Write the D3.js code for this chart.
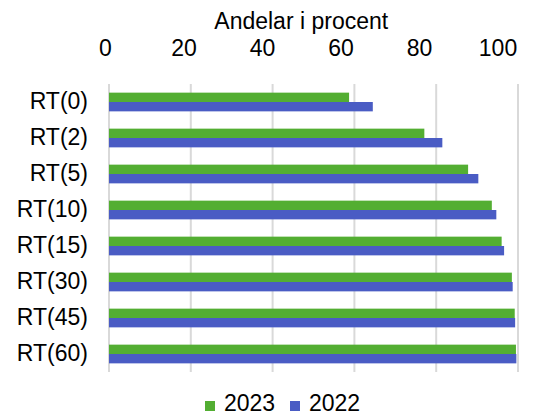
<!DOCTYPE html>
<html>
<head>
<meta charset="utf-8">
<script src="https://cdn.jsdelivr.net/npm/d3@7"></script>
<style>
  body { margin: 0; background: #fff; }
  text { font-family: "Liberation Sans", Arial, sans-serif; fill: #000; }
</style>
</head>
<body>
<div id="chart"></div>
<script>
const width = 540;
const height = 416;

// data
const categories = ['RT(0)', 'RT(2)', 'RT(5)', 'RT(10)', 'RT(15)', 'RT(30)', 'RT(45)', 'RT(60)'];
const series = ['2023', '2022'];
const values2023 = [58.7, 77.1, 87.8, 93.6, 96.0, 98.5, 99.2, 99.5];
const values2022 = [64.5, 81.5, 90.3, 94.7, 96.6, 98.7, 99.3, 99.6];
const xTicks = [0, 20, 40, 60, 80, 100];
const colors = { '2023': '#53ae32', '2022': '#4a5cc4' };

const fontSize = '23px';

const svg = d3.select('#chart')
    .append('svg')
    .attr('width', width)
    .attr('height', height);

const x = d3.scaleLinear().domain([0, 100]).range([109, 518]);
// tick labels sit slightly off the gridlines in the original
const xLabel = d3.scaleLinear().domain([0, 100]).range([105, 497.5]);
const y = d3.scaleBand().domain(categories).range([84, 372]).paddingInner(0.48).paddingOuter(0.24);
const ySub = d3.scaleBand().domain(series).range([0, y.bandwidth()]);

// gridlines
svg.append('g')
    .selectAll('line')
    .data(xTicks)
    .enter()
    .append('line')
    .attr('x1', d => x(d))
    .attr('x2', d => x(d))
    .attr('y1', 84)
    .attr('y2', 372)
    .attr('stroke', '#d9d9d9')
    .attr('stroke-width', 2);

// bars
const rows = categories.map((c, i) => ({ cat: c, vals: { '2023': values2023[i], '2022': values2022[i] } }));
const groups = svg.append('g')
    .selectAll('g')
    .data(rows)
    .enter()
    .append('g')
    .attr('transform', d => `translate(0,${y(d.cat)})`);

groups.selectAll('rect')
    .data(d => series.map(s => ({ s: s, v: d.vals[s] })))
    .enter()
    .append('rect')
    .attr('x', x(0))
    .attr('y', d => ySub(d.s))
    .attr('width', d => x(d.v) - x(0))
    .attr('height', ySub.bandwidth())
    .attr('fill', d => colors[d.s]);

// top axis labels
const xAxis = svg.append('g')
    .attr('transform', 'translate(0,56)')
    .call(d3.axisTop(xLabel).tickValues(xTicks).tickSize(0).tickPadding(0));
xAxis.select('.domain').remove();
xAxis.selectAll('text')
    .attr('dy', 0)
    .style('font-size', fontSize)
    .style('font-family', '"Liberation Sans", Arial, sans-serif')
    .attr('fill', '#000');

// y axis labels
const yAxis = svg.append('g')
    .attr('transform', 'translate(88,0)')
    .call(d3.axisLeft(y).tickSize(0).tickPadding(0));
yAxis.select('.domain').remove();
yAxis.selectAll('text')
    .style('font-size', fontSize)
    .style('font-family', '"Liberation Sans", Arial, sans-serif')
    .attr('fill', '#000');

// axis title
svg.append('text')
    .attr('x', xLabel(50))
    .attr('y', 29)
    .attr('text-anchor', 'middle')
    .style('font-size', fontSize)
    .text('Andelar i procent');

// legend
const legend = svg.append('g')
    .selectAll('g')
    .data(series)
    .enter()
    .append('g')
    .attr('transform', (d, i) => `translate(${205 + i * 85},0)`);

legend.append('rect')
    .attr('x', 0)
    .attr('y', 401)
    .attr('width', 10)
    .attr('height', 10)
    .attr('fill', d => colors[d]);

legend.append('text')
    .attr('x', 19)
    .attr('y', 411)
    .style('font-size', fontSize)
    .text(d => d);
</script>
</body>
</html>
